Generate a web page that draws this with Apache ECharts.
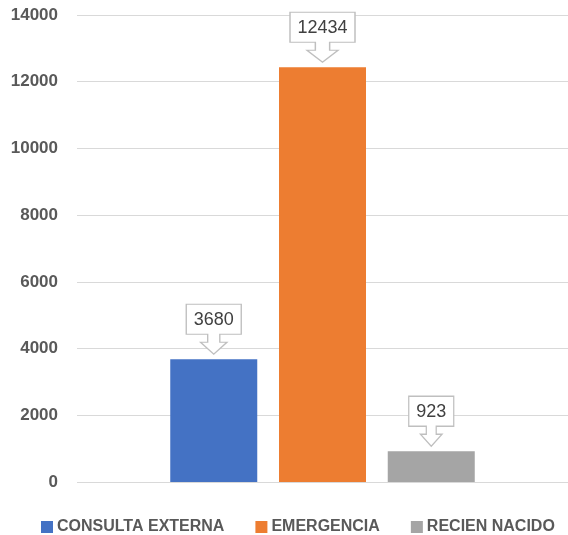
<!DOCTYPE html>
<html>
<head>
<meta charset="utf-8">
<style>
  html, body { margin: 0; padding: 0; background: #ffffff; }
  #chart { width: 568px; height: 535px; }
</style>
<script src="https://cdn.jsdelivr.net/npm/echarts@6/dist/echarts.min.js"></script>
</head>
<body>
<div id="chart"></div>
<script>
// Attention by service area
const categories = [''];
const seriesNames = ['CONSULTA EXTERNA', 'EMERGENCIA', 'RECIEN NACIDO'];
const seriesValues = [3680, 12434, 923];
const seriesColors = ['#4472C4', '#ED7D31', '#A5A5A5'];
const yMin = 0, yMax = 14000, yStep = 2000;

const chart = echarts.init(document.getElementById('chart'), null, { renderer: 'canvas' });

// Callout shape: box with a down-pointing block arrow under it
const BOX_H = 30, SHAFT_H = 8, HEAD_H = 12, TOTAL_H = BOX_H + SHAFT_H + HEAD_H;
function calloutPath(w) {
  const cx = w / 2, sw = w * 0.11, hw = w * 0.24;
  const y1 = BOX_H, y2 = BOX_H + SHAFT_H, y3 = TOTAL_H;
  return 'path://M0,0 L' + w + ',0 L' + w + ',' + y1 +
    ' L' + (cx + sw) + ',' + y1 + ' L' + (cx + sw) + ',' + y2 +
    ' L' + (cx + hw) + ',' + y2 + ' L' + cx + ',' + y3 +
    ' L' + (cx - hw) + ',' + y2 + ' L' + (cx - sw) + ',' + y2 +
    ' L' + (cx - sw) + ',' + y1 + ' L0,' + y1 + ' Z';
}
function calloutWidth(v) {
  return String(v).length * 10 + 15;
}

const series = seriesNames.map(function (name, i) {
  const v = seriesValues[i];
  const w = calloutWidth(v);
  return {
    name: name,
    type: 'bar',
    data: [v],
    barWidth: 87,
    barGap: '25%',
    itemStyle: { color: seriesColors[i] },
    markPoint: {
      symbol: calloutPath(w),
      symbolSize: [w, TOTAL_H],
      symbolOffset: [0, -(TOTAL_H / 2 + 5)],
      itemStyle: { color: '#ffffff', borderColor: '#bfbfbf', borderWidth: 1.3 },
      label: {
        show: true,
        position: 'inside',
        offset: [0, -(TOTAL_H / 2 - BOX_H / 2) + 1],
        color: '#404040',
        fontSize: 18,
        fontFamily: 'Liberation Sans, Arial, sans-serif',
        formatter: function () { return String(v); }
      },
      emphasis: { disabled: true },
      data: [{ coord: [0, v], value: v }]
    }
  };
});

chart.setOption({
  animation: false,
  backgroundColor: '#ffffff',
  grid: { left: 77, right: -4, top: 15, bottom: 53, containLabel: false },
  legend: {
    data: seriesNames,
    left: 36,
    top: 514,
    icon: 'rect',
    itemWidth: 12,
    itemHeight: 12,
    itemGap: 31,
    textStyle: {
      color: '#595959',
      fontSize: 16,
      fontWeight: 'bold',
      fontFamily: 'Liberation Sans, Arial, sans-serif',
      padding: [0, 0, 0, -1]
    }
  },
  xAxis: {
    type: 'category',
    data: categories,
    axisLine: { show: false },
    axisTick: { show: false },
    axisLabel: { show: false },
    splitLine: { show: false }
  },
  yAxis: {
    type: 'value',
    min: yMin,
    max: yMax,
    interval: yStep,
    axisLine: { show: false },
    axisTick: { show: false },
    axisLabel: {
      color: '#595959',
      fontSize: 17,
      fontWeight: 'bold',
      fontFamily: 'Liberation Sans, Arial, sans-serif',
      margin: 19,
      formatter: function (val) { return String(val); }
    },
    splitLine: { lineStyle: { color: '#d9d9d9', width: 1 } }
  },
  series: series
});
</script>
</body>
</html>
